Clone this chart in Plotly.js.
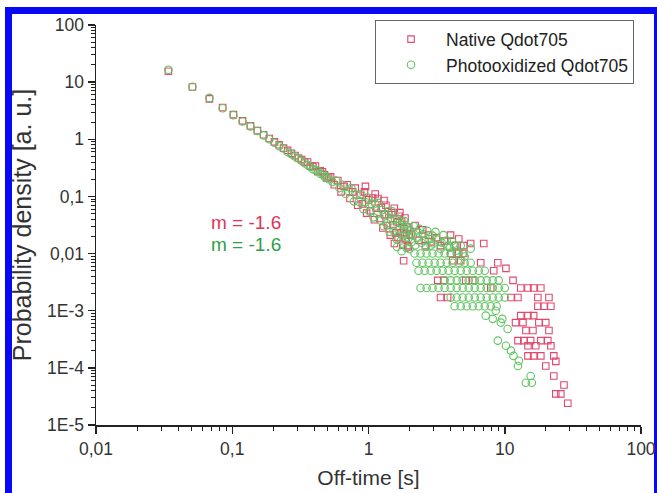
<!DOCTYPE html>
<html><head><meta charset="utf-8">
<script src="https://cdn.plot.ly/plotly-3.0.1.min.js"></script>
<style>
html,body{margin:0;padding:0;background:#fff;width:657px;height:493px;overflow:hidden;}
#frame{position:absolute;left:5px;top:7px;width:642px;height:500px;border:7px solid #0808f5;border-bottom:none;}
#chart{position:absolute;left:0;top:0;width:657px;height:493px;}
</style></head><body>
<div id="frame"></div><div id="chart"></div>
<script>
// ---- data (off-time in s, probability density in a.u.) ----
const shortT = [0.034,0.051,0.068,0.085,0.102,0.119,0.136,0.153,0.170,0.187,0.204,0.221,0.238,0.255,0.272,0.289,0.306,0.323,0.340,0.357,0.374,0.391,0.408,0.425,0.442,0.459,0.476,0.493,0.510];
const nativeShortP = [15.5,8.2,5.1,3.6,2.7,2.1,1.72,1.42,1.20,1.03,0.90,0.80,0.70,0.64,0.57,0.52,0.47,0.44,0.40,0.40,0.34,0.33,0.34,0.27,0.28,0.27,0.24,0.21,0.22];
const photoShortP  = [16.5,8.3,5.3,3.5,2.65,2.05,1.68,1.40,1.17,1.00,0.87,0.76,0.69,0.60,0.55,0.50,0.46,0.42,0.38,0.355,0.33,0.30,0.29,0.28,0.25,0.25,0.22,0.22,0.20];

const nativeBandT = [0.527,0.561,0.595,0.629,0.663,0.697,0.731,0.765,0.799,0.833,0.867,0.901,0.935,0.969,1.003,1.037,1.071,1.105,1.139,1.173,1.207,1.241,1.275,1.309,1.343,1.377,1.411,1.445,1.479,1.513,1.547,1.581,1.615,1.649,1.683,1.717,1.751,1.785,1.819,1.853,1.887,1.921,1.955,1.989,
  0.95,1.12,1.30,1.55,1.70,2.05,2.20,2.35,2.50,2.75,2.90,3.15,3.60,4.00,4.60];
const nativeBandP = [0.22,0.16,0.19,0.12,0.15,0.16,0.092,0.12,0.14,0.07,0.105,0.074,0.12,0.051,0.087,0.056,0.094,0.039,0.062,0.092,0.041,0.064,0.028,0.048,0.070,0.031,0.048,0.021,0.052,0.032,0.062,0.023,0.036,0.019,0.045,0.023,0.037,0.014,0.027,0.042,0.018,0.029,0.013,0.021,
  0.15,0.11,0.085,0.015,0.052,0.022,0.031,0.017,0.026,0.021,0.016,0.019,0.0165,0.021,0.018];
const photoBandT = [0.544,0.578,0.612,0.646,0.680,0.714,0.748,0.782,0.816,0.850,0.884,0.918,0.952,0.986,1.020,1.054,1.088,1.122,1.156,1.190,1.224,1.258,1.292,1.326,1.360,1.394,1.428,1.462,1.496,1.530,1.564,1.598,1.632,1.666,1.700,1.734,1.768,1.802,1.836,1.870,1.904,1.938,1.972,
  1.62,1.75,2.00,2.02,2.07,2.15,2.20,2.28,2.37,2.45,2.52,2.64,2.70,2.80,3.00,3.10,3.20,3.45,3.55,3.95,4.10,4.25];
const photoBandP = [0.18,0.19,0.14,0.16,0.11,0.125,0.14,0.082,0.106,0.081,0.11,0.06,0.079,0.096,0.054,0.074,0.043,0.075,0.05,0.077,0.038,0.058,0.030,0.049,0.034,0.055,0.024,0.038,0.055,0.025,0.039,0.018,0.041,0.026,0.036,0.017,0.031,0.02,0.037,0.023,0.0125,0.029,0.019,
  0.013,0.011,0.012,0.026,0.016,0.030,0.014,0.019,0.027,0.0155,0.022,0.013,0.025,0.018,0.015,0.024,0.0175,0.0155,0.021,0.0125,0.0165,0.0138];

const photoTailT = [
  1.87,2.11,2.33,2.58,2.95,3.38,3.75,4.44,5.08,5.62,2.86,3.87,4.75,
  2.18,2.41,2.67,2.95,3.27,3.62,4.01,4.44,4.91,
  2.25,2.49,2.76,3.06,3.38,3.75,4.15,4.59,5.08,5.62,
  2.33,2.58,2.86,3.16,3.50,3.87,4.29,4.75,5.26,5.82,6.44,7.13,
  3.62,4.01,4.44,4.91,5.44,6.02,6.66,7.37,8.16,9.03,
  2.41,2.67,2.95,3.27,3.62,4.01,4.44,4.91,5.44,6.02,6.66,7.37,8.16,9.03,10.0,
  4.01,4.44,4.91,5.44,6.02,6.66,7.37,8.16,9.03,10.0,
  4.29,4.75,5.26,5.82,6.44,7.13,7.89,8.73,
  7.25,8.16,9.35,10.5,8.89,10.2,11.1,11.6,12.7,12.5,15.5,14.3,15.8,8.59,9.6];
const photoTailP = [
  0.031,0.0207,0.0233,0.017,0.0206,0.0122,0.0169,0.0113,0.0089,0.0122,0.0138,0.0138,0.0138,
  0.0100,0.0100,0.0100,0.0100,0.0100,0.0100,0.0100,0.0100,0.0100,
  0.0069,0.0069,0.0069,0.0069,0.0069,0.0069,0.0069,0.0069,0.0069,0.0069,
  0.0050,0.0050,0.0050,0.0050,0.0050,0.0050,0.0050,0.0050,0.0050,0.0050,0.0050,0.0050,
  0.0034,0.0034,0.0034,0.0034,0.0034,0.0034,0.0034,0.0034,0.0034,0.0034,
  0.0025,0.0025,0.0025,0.0025,0.0025,0.0025,0.0025,0.0025,0.0025,0.0025,0.0025,0.0025,0.0025,0.0025,0.0025,
  0.0017,0.0017,0.0017,0.0017,0.0017,0.0017,0.0017,0.0017,0.0017,0.0017,
  0.0012,0.0012,0.0012,0.0012,0.0012,0.0012,0.0012,0.0012,
  0.00082,0.00072,0.00062,0.00048,0.0003,0.000243,0.0002,0.000162,0.000133,0.000108,7.2e-5,5.5e-5,5.5e-5,0.001,0.00072];

const nativeTailT = [
  1.94,2.62,3.38,4.36,5.0,5.62,7.01,
  4.01,4.59,5.0,
  1.81,4.15,4.75,6.66,8.89,10.2,8.3,11.5,
  3.22,3.56,5.17,5.82,
  7.89,13.1,14.8,16.3,18.4,
  3.38,3.81,11.1,12.5,17.5,21.1,
  17.5,19.4,21.8,
  13.1,14.8,16.3,
  12.0,13.6,17.8,20.0,
  14.3,16.1,21.1,
  12.5,13.8,15.5,18.4,20.7,
  14.8,16.9,21.8,
  14.8,16.3,18.4,22.9,
  20.0,23.7,
  22.9,27.2,
  23.7,25.8,
  29.0];
const nativeTailP = [
  0.0138,0.0138,0.0138,0.0138,0.0138,0.015,0.015,
  0.0100,0.0100,0.0100,
  0.0075,0.0075,0.0075,0.0069,0.0069,0.0055,0.0050,0.0034,
  0.0034,0.0034,0.0034,0.0034,
  0.0025,0.0025,0.0025,0.0025,0.0025,
  0.0017,0.0017,0.0017,0.0017,0.0017,0.0017,
  0.0012,0.0012,0.0012,
  0.00082,0.00082,0.00082,
  0.00062,0.00062,0.00062,0.00062,
  0.00045,0.00045,0.00045,
  0.0003,0.0003,0.0003,0.0003,0.0003,
  0.000243,0.000243,0.000243,
  0.000162,0.000162,0.000162,0.000162,
  0.000108,0.00013,
  7.2e-5,5.0e-5,
  3.5e-5,3.5e-5,
  2.4e-5];

const seriesNames = ['Native Qdot705','Photooxidized Qdot705'];
const xTickVals = [0.01,0.1,1,10,100];
const xTickText = ['0,01','0,1','1','10','100'];
const yTickVals = [1e-5,1e-4,1e-3,0.01,0.1,1,10,100];
const yTickText = ['1E-5','1E-4','1E-3','0,01','0,1','1','10','100'];
const slopeLabels = ['m = -1.6','m = -1.6'];

// ---- styling ----
const FONT = 'Liberation Sans, Arial, Helvetica, sans-serif';
const RED = 'rgb(228,72,110)';
const GREEN = 'rgb(96,196,96)';

const nativeT = shortT.concat(nativeBandT, nativeTailT);
const nativeP = nativeShortP.concat(nativeBandP, nativeTailP);
const photoT = shortT.concat(photoBandT, photoTailT);
const photoP = photoShortP.concat(photoBandP, photoTailP);

const traces = [
  {type:'scatter', mode:'markers', name:seriesNames[0], x:nativeT, y:nativeP,
   marker:{symbol:'square-open', size:6.5, color:RED, line:{width:1.1, color:RED}}},
  {type:'scatter', mode:'markers', name:seriesNames[1], x:photoT, y:photoP,
   marker:{symbol:'circle-open', size:7.5, color:GREEN, line:{width:1.1, color:GREEN}}}
];

const axisCommon = {
  type:'log', tickmode:'array', ticks:'outside', ticklen:7, tickwidth:1.5, tickcolor:'#222',
  showline:true, linecolor:'#222', linewidth:1.5, showgrid:false, zeroline:false, mirror:false,
  tickfont:{family:FONT, size:17.5, color:'#333'},
  minor:{ticks:'outside', ticklen:4, tickwidth:1, tickcolor:'#222', dtick:'D1', showgrid:false}
};

const layout = {
  width:657, height:493,
  margin:{l:96, r:16, t:25, b:68},
  paper_bgcolor:'rgba(0,0,0,0)', plot_bgcolor:'rgba(0,0,0,0)',
  font:{family:FONT, color:'#333'},
  showlegend:true,
  legend:{x:0.512, xanchor:'left', y:1.012, yanchor:'top', bgcolor:'#fff', bordercolor:'#666', borderwidth:1,
          font:{family:FONT, size:17.5, color:'#222'}, itemwidth:60, tracegroupgap:0},
  xaxis:Object.assign({}, axisCommon, {range:[-2,2], tickvals:xTickVals, ticktext:xTickText,
          title:{text:'Off-time [s]', font:{family:FONT, size:21, color:'#333'}, standoff:13}}),
  yaxis:Object.assign({}, axisCommon, {range:[-5,2], tickvals:yTickVals, ticktext:yTickText,
          title:{text:'Probability density [a. u.]', font:{family:FONT, size:25, color:'#333'}, standoff:8}}),
  annotations:[
    {xref:'paper', yref:'paper', x:0.275, y:0.5075, xanchor:'center', yanchor:'middle', text:slopeLabels[0], showarrow:false,
     font:{family:FONT, size:19, color:'rgb(226,52,88)'}},
    {xref:'paper', yref:'paper', x:0.275, y:0.4525, xanchor:'center', yanchor:'middle', text:slopeLabels[1], showarrow:false,
     font:{family:FONT, size:19, color:'rgb(48,160,72)'}}
  ]
};

Plotly.newPlot('chart', traces, layout, {staticPlot:true, displayModeBar:false});
</script></body></html>
